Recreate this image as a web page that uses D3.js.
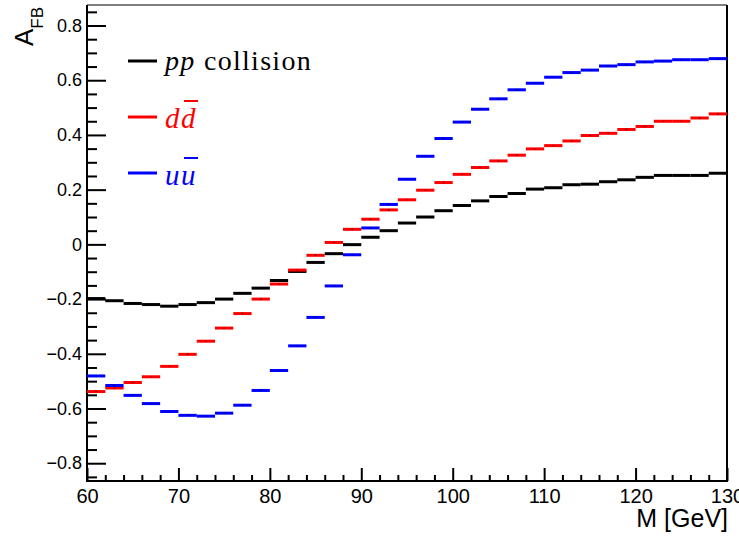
<!DOCTYPE html>
<html>
<head>
<meta charset="utf-8">
<script src="https://cdn.jsdelivr.net/npm/d3@7"></script>
<style>
  html, body { margin: 0; padding: 0; background: #fff; }
  svg { display: block; }
</style>
</head>
<body>
<svg id="chart" width="739" height="536"></svg>
<script>
// ---- data ----
const binCenters = [61,63,65,67,69,71,73,75,77,79,81,83,85,87,89,91,93,95,97,99,
                    101,103,105,107,109,111,113,115,117,119,121,123,125,127,129];
const binWidth = 2;
const ppValues = [-0.198,-0.206,-0.216,-0.220,-0.226,-0.220,-0.213,-0.200,-0.179,-0.160,
                  -0.132,-0.099,-0.066,-0.034,-0.001,0.026,0.050,0.078,0.100,0.123,
                  0.142,0.159,0.175,0.186,0.202,0.207,0.218,0.220,0.229,0.236,
                  0.245,0.252,0.252,0.252,0.260];
const ddValues = [-0.538,-0.525,-0.505,-0.484,-0.446,-0.402,-0.354,-0.306,-0.253,-0.200,
                  -0.145,-0.094,-0.040,0.007,0.055,0.092,0.126,0.163,0.198,0.226,
                  0.256,0.281,0.305,0.326,0.349,0.361,0.378,0.398,0.406,0.420,
                  0.431,0.450,0.450,0.462,0.477];
const uuValues = [-0.481,-0.516,-0.552,-0.582,-0.611,-0.625,-0.628,-0.617,-0.588,-0.534,
                  -0.461,-0.371,-0.267,-0.152,-0.038,0.060,0.146,0.238,0.322,0.387,
                  0.447,0.494,0.532,0.565,0.589,0.611,0.628,0.637,0.652,0.657,
                  0.667,0.670,0.675,0.675,0.679];
const xMajorTicks = [60,70,80,90,100,110,120,130];
const yMajorTicks = [-0.8,-0.6,-0.4,-0.2,0,0.2,0.4,0.6,0.8];
const yTickLabels = ["\u22120.8","\u22120.6","\u22120.4","\u22120.2","0","0.2","0.4","0.6","0.8"];
const xTitle = "M [GeV]";

// ---- layout ----
const L = 87, R = 727, T = 5, B = 481;
const svg = d3.select("#chart");
const x = d3.scaleLinear().domain([60, 130]).range([L, R]);
const y = d3.scaleLinear().domain([-0.865, 0.875]).range([B, T]);

const sansFont = "'Liberation Sans', Arial, Helvetica, sans-serif";
const serifFont = "'Liberation Serif', 'Times New Roman', serif";

// ---- axes ----
const yMinor = d3.range(-0.85, 0.8501, 0.05).filter(v => Math.abs(Math.round(v*10)/10 - v) > 1e-6 || Math.abs(Math.round(v*5)/5 - v) > 1e-6);
const gyMinor = svg.append("g").attr("transform", `translate(${L},0)`)
  .call(d3.axisLeft(y).tickValues(yMinor).tickSizeInner(-10).tickSizeOuter(0).tickFormat(""));
const gy = svg.append("g").attr("transform", `translate(${L},0)`)
  .call(d3.axisLeft(y).tickValues(yMajorTicks).tickSizeInner(-19).tickSizeOuter(0).tickPadding(5)
    .tickFormat((d, i) => yTickLabels[i]));
const xMinor = d3.range(62, 130, 2).filter(v => v % 10 !== 0);
const gxMinor = svg.append("g").attr("transform", `translate(0,${B})`)
  .call(d3.axisBottom(x).tickValues(xMinor).tickSizeInner(-6).tickSizeOuter(0).tickFormat(""));
const gx = svg.append("g").attr("transform", `translate(0,${B})`)
  .call(d3.axisBottom(x).tickValues(xMajorTicks).tickSizeInner(-13).tickSizeOuter(0).tickPadding(8)
    .tickFormat(d3.format("d")));

[gyMinor, gy, gxMinor, gx].forEach(g => {
  g.select(".domain").remove();
  g.selectAll(".tick line").attr("stroke", "#000").attr("stroke-width", 2);
});
gy.selectAll("text").attr("font-family", sansFont).attr("font-size", 18).attr("fill", "#000");
gx.selectAll("text").attr("font-family", sansFont).attr("font-size", 20).attr("fill", "#000");

// ---- frame ----
svg.append("line").attr("x1", L).attr("x2", R).attr("y1", T).attr("y2", T)
  .attr("stroke", "#555").attr("stroke-width", 1.5);
svg.append("line").attr("x1", R).attr("x2", R).attr("y1", T).attr("y2", B)
  .attr("stroke", "#000").attr("stroke-width", 2);
svg.append("line").attr("x1", L).attr("x2", L).attr("y1", T).attr("y2", B + 1)
  .attr("stroke", "#000").attr("stroke-width", 2);
svg.append("line").attr("x1", L - 1).attr("x2", R + 1).attr("y1", B).attr("y2", B)
  .attr("stroke", "#000").attr("stroke-width", 2);

// ---- axis titles ----
svg.append("text").attr("x", R + 1).attr("y", 527)
  .attr("text-anchor", "end").attr("font-family", sansFont).attr("font-size", 25)
  .attr("fill", "#000").text(xTitle);
const yt = svg.append("text").attr("transform", "translate(33,7) rotate(-90)")
  .attr("text-anchor", "end").attr("font-family", sansFont).attr("fill", "#000");
yt.append("tspan").attr("font-size", 26).text("A");
yt.append("tspan").attr("font-size", 17).attr("dy", 10).text("FB");

// ---- series ----
const series = [
  { name: "pp", values: ppValues, color: "#000000" },
  { name: "dd", values: ddValues, color: "#ff0000" },
  { name: "uu", values: uuValues, color: "#0000ff" }
];
const plot = svg.append("g");
series.forEach(s => {
  const g = plot.append("g");
  g.selectAll("line").data(binCenters).join("line")
    .attr("x1", (d) => x(d - binWidth / 2))
    .attr("x2", (d) => x(d + binWidth / 2))
    .attr("y1", (d, i) => y(s.values[i]))
    .attr("y2", (d, i) => y(s.values[i]))
    .attr("stroke", s.color).attr("stroke-width", 3);
  g.selectAll("circle").data(binCenters).join("circle")
    .attr("cx", d => x(d))
    .attr("cy", (d, i) => y(s.values[i]))
    .attr("r", 0.8).attr("fill", "#000").attr("opacity", 0.6);
});

// ---- legend ----
const legendItems = [
  { color: "#000000", lineY: 61, baseY: 70 },
  { color: "#ff0000", lineY: 117, baseY: 128 },
  { color: "#0000ff", lineY: 173, baseY: 185 }
];
legendItems.forEach(it => {
  svg.append("line").attr("x1", 128).attr("x2", 157).attr("y1", it.lineY).attr("y2", it.lineY)
    .attr("stroke", it.color).attr("stroke-width", 3);
});
const tx = 165;
const t0 = svg.append("text").attr("x", tx).attr("y", legendItems[0].baseY)
  .attr("font-family", serifFont).attr("font-size", 28).attr("letter-spacing", 1.3).attr("fill", "#000");
t0.append("tspan").attr("font-style", "italic").text("pp");
t0.append("tspan").text(" collision");

function barPair(first, second, item) {
  const t = svg.append("text").attr("x", tx).attr("y", item.baseY)
    .attr("font-family", serifFont).attr("font-size", 29).attr("font-style", "italic")
    .attr("letter-spacing", 1.5).attr("fill", item.color).text(first + second);
  const node = t.node();
  const start = node.getStartPositionOfChar(1).x;
  const end = node.getEndPositionOfChar(1).x;
  svg.append("line").attr("x1", start + 3).attr("x2", end + 1)
    .attr("y1", item.baseY - 27).attr("y2", item.baseY - 27)
    .attr("stroke", item.color).attr("stroke-width", 2);
}
barPair("d", "d", legendItems[1]);
barPair("u", "u", legendItems[2]);
</script>
</body>
</html>
